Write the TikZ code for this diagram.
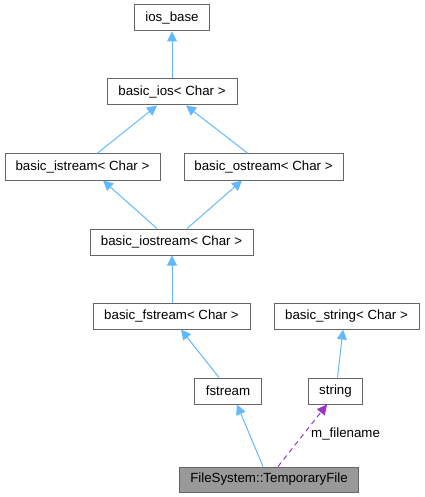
\documentclass[tikz,border=0pt]{standalone}
\usepackage{fontspec}
\setmainfont{Liberation Sans}
\usetikzlibrary{arrows.meta}
\definecolor{edgeblue}{HTML}{63B8FF}
\definecolor{edgepurple}{HTML}{9A32CD}
\definecolor{boxborder}{HTML}{666666}
\definecolor{boxgray}{HTML}{999999}
\tikzset{
  cls/.style={draw=boxborder, line width=1pt, fill=white, minimum height=26pt, inner sep=0pt, font=\fontsize{13.3}{15}\selectfont, text=black},
  inh/.style={draw=edgeblue, line width=1pt, -{Triangle[length=10pt,width=10pt]}},
  use/.style={draw=edgepurple, line width=1pt, dashed, dash pattern=on 5pt off 4pt, -{Triangle[length=10pt,width=10pt]}},
}
\begin{document}
\begin{tikzpicture}[x=1pt,y=-1pt]
\useasboundingbox (0,0) rectangle (424,497);
\node[cls, minimum width=75pt] (iosbase) at (172,18) {ios\_base};
\node[cls, minimum width=130pt] (basicios) at (172,92) {basic\_ios< Char >};
\node[cls, minimum width=155pt] (istream) at (82.5,167) {basic\_istream< Char >};
\node[cls, minimum width=159pt] (ostream) at (263.5,167) {basic\_ostream< Char >};
\node[cls, minimum width=163pt] (iostream) at (171.5,242) {basic\_iostream< Char >};
\node[cls, minimum width=157pt] (bfstream) at (171.5,316) {basic\_fstream< Char >};
\node[cls, minimum width=145pt] (bstring) at (346.5,316) {basic\_string< Char >};
\node[cls, minimum width=66.5pt] (fstream) at (228,391) {fstream};
\node[cls, minimum width=54.5pt] (string) at (335.5,391) {string};
\node[cls, minimum width=179pt, minimum height=25pt, fill=boxgray] (tmp) at (269,479.5) {FileSystem::TemporaryFile};

\draw[inh] (basicios.north) -- (iosbase.south);
\draw[inh] (istream.north -| 97,0) -- (basicios.south -| 157,0);
\draw[inh] (ostream.north -| 248,0) -- (basicios.south -| 186,0);
\draw[inh] (iostream.north -| 157,0) -- (istream.south -| 103,0);
\draw[inh] (iostream.north -| 187,0) -- (ostream.south -| 242,0);
\draw[inh] (bfstream.north -| 172,0) -- (iostream.south -| 172,0);
\draw[inh] (fstream.north -| 219,0) -- (bfstream.south -| 181,0);
\draw[inh] (string.north -| 337.5,0) -- (bstring.south -| 343,0);
\draw[inh] (tmp.north -| 263,0) -- (fstream.south -| 237,0);
\draw[use] (tmp.north -| 278,0) -- (string.south -| 327,0);
\node[anchor=west, inner sep=0pt, font=\fontsize{13.3}{15}\selectfont] (lbl) at (311,434) {m\_filename};
\end{tikzpicture}
\end{document}
